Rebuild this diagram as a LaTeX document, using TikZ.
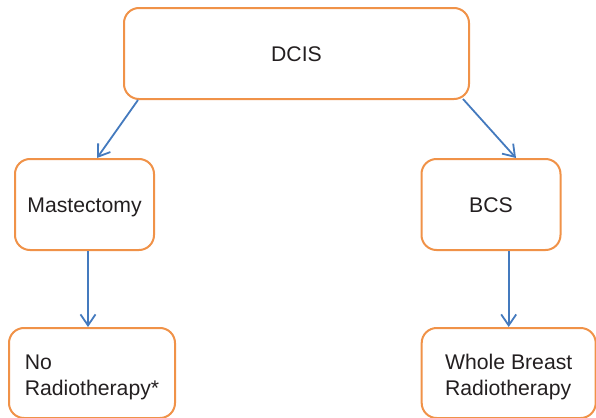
\documentclass[tikz,border=0pt]{standalone}
\usepackage{fontspec}
\setmainfont{Liberation Sans}
\usepackage{tikz}
\usetikzlibrary{arrows.meta}
\definecolor{boxorange}{RGB}{240,146,72}
\definecolor{arrowblue}{RGB}{68,122,190}
\definecolor{inkgray}{RGB}{35,31,32}

\begin{document}
\begin{tikzpicture}[x=0.5pt,y=-0.5pt,
    box/.style={draw=boxorange,line width=1pt,rounded corners=7.5pt,
      minimum height=45.5pt,inner sep=0pt,text=inkgray,
      font=\fontsize{10.6}{13}\selectfont},
    oneline/.style={box,text height=7.6pt,text depth=0pt},
    twoline/.style={box,minimum height=45pt,align=left,text height=23.6pt,text depth=1pt},
    link/.style={draw=arrowblue,line width=0.9pt,
      -{Straight Barb[length=5.5pt,width=7.5pt]}}]
       \useasboundingbox (0,0) rectangle (596,418);
       % treatment boxes
       \node[oneline,minimum width=172.5pt] (dcis) at (296.5,53.5) {DCIS};
       \node[oneline,minimum width=69.5pt] (mast) at (84.5,204.5) {Mastectomy};
       \node[oneline,minimum width=69.5pt] (bcs) at (491,204.5) {BCS};
       \node[twoline,minimum width=83pt] (norad) at (92,373) {No\\Radiotherapy*};
       \node[twoline,minimum width=87pt] (wbrt) at (508.7,373) {Whole Breast\\Radiotherapy};
       % arrows
       \draw[link] ([xshift=7.5pt]dcis.south west) -- ([xshift=6.25pt]mast.north);
       \draw[link] ([xshift=-3.5pt,yshift=0.5pt]dcis.south east) -- ([xshift=12.5pt]bcs.north);
       \draw[link] ([xshift=1.75pt]mast.south) -- ([xshift=1.75pt]mast.south |- norad.north);
       \draw[link] (bcs.south -| wbrt.north) -- (wbrt.north);
      \end{tikzpicture}
\end{document}
